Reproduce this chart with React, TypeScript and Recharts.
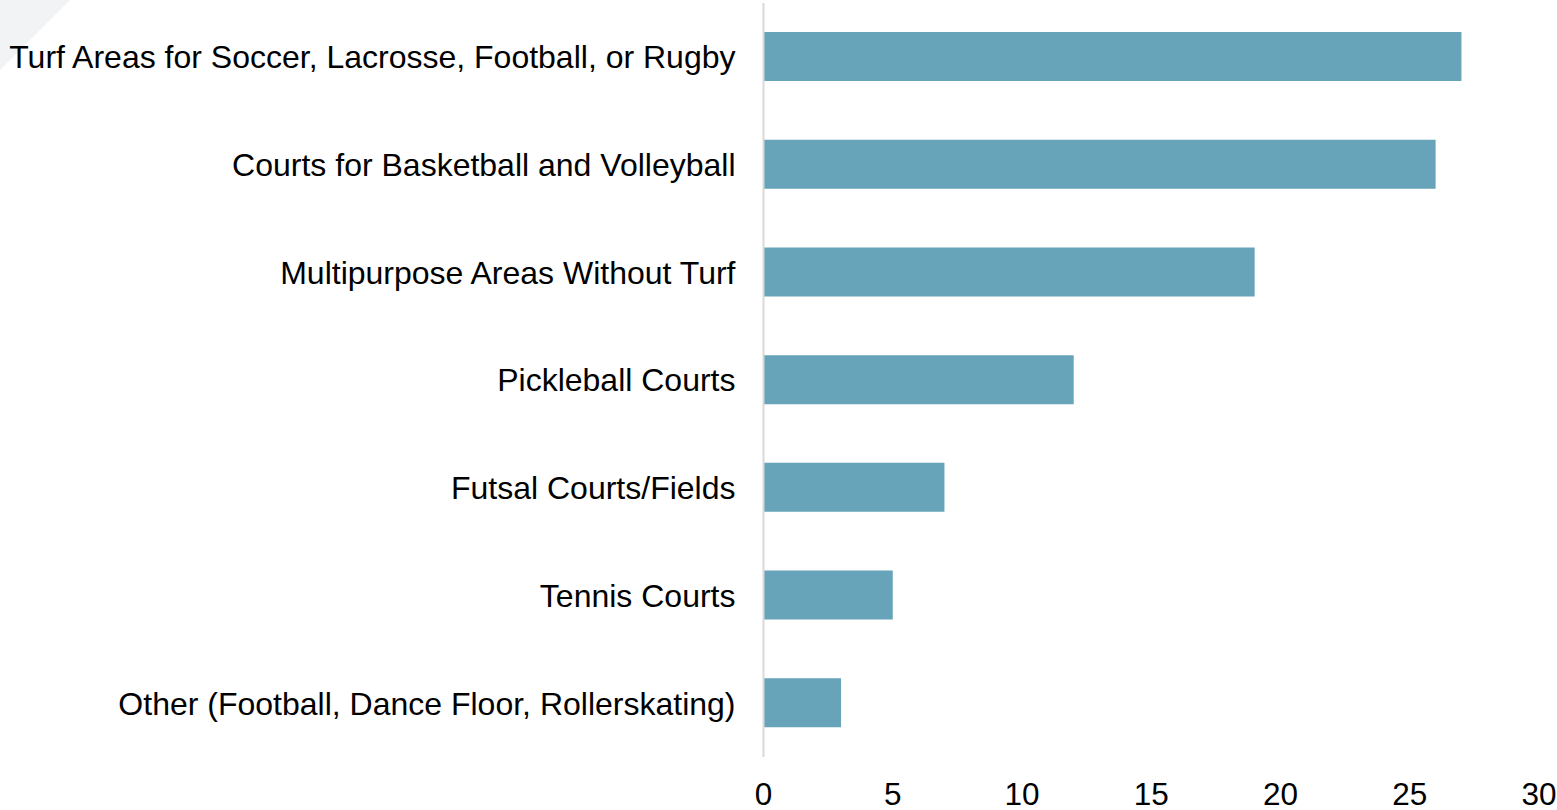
import React from 'react';
import { BarChart, Bar, XAxis, YAxis } from 'recharts';

const categories = [
  'Turf Areas for Soccer, Lacrosse, Football, or Rugby',
  'Courts for Basketball and Volleyball',
  'Multipurpose Areas Without Turf',
  'Pickleball Courts',
  'Futsal Courts/Fields',
  'Tennis Courts',
  'Other (Football, Dance Floor, Rollerskating)',
];
const counts = [27, 26, 19, 12, 7, 5, 3];
const xTicks = [0, 5, 10, 15, 20, 25, 30];

const data = categories.map((name, i) => ({ name, value: counts[i] }));

const font = "'Liberation Sans', Arial, sans-serif";

export default function App() {
  return (
    <div style={{ position: 'absolute', left: 0, top: 0, width: 1557, height: 810, background: '#fff' }}>
      <svg width={1557} height={810} style={{ position: 'absolute', left: 0, top: 0 }}>
        <polygon points="0,0 70,0 0,70" fill="#f2f3f5" />
      </svg>
      <div style={{ position: 'absolute', left: 0, top: 0 }}>
        <BarChart
          width={1557}
          height={810}
          data={data}
          layout="vertical"
          margin={{ top: 3, right: 18, bottom: 0, left: 0 }}
          barCategoryGap={29}
        >
          <XAxis
            type="number"
            domain={[0, 30]}
            ticks={xTicks}
            axisLine={false}
            tickLine={false}
            tickSize={0}
            tickMargin={26}
            height={53}
            interval={0}
            tick={{ fill: '#000', fontSize: 31.5, fontFamily: font }}
          />
          <YAxis
            type="category"
            dataKey="name"
            width={763.5}
            axisLine={{ stroke: '#d9d9d9', strokeWidth: 2 }}
            tickLine={false}
            tickSize={0}
            tickMargin={28}
            interval={0}
            tick={{ fill: '#000', fontSize: 32, fontFamily: font }}
          />
          <Bar dataKey="value" fill="#67a3b9" barSize={49} isAnimationActive={false} />
        </BarChart>
      </div>
    </div>
  );
}
